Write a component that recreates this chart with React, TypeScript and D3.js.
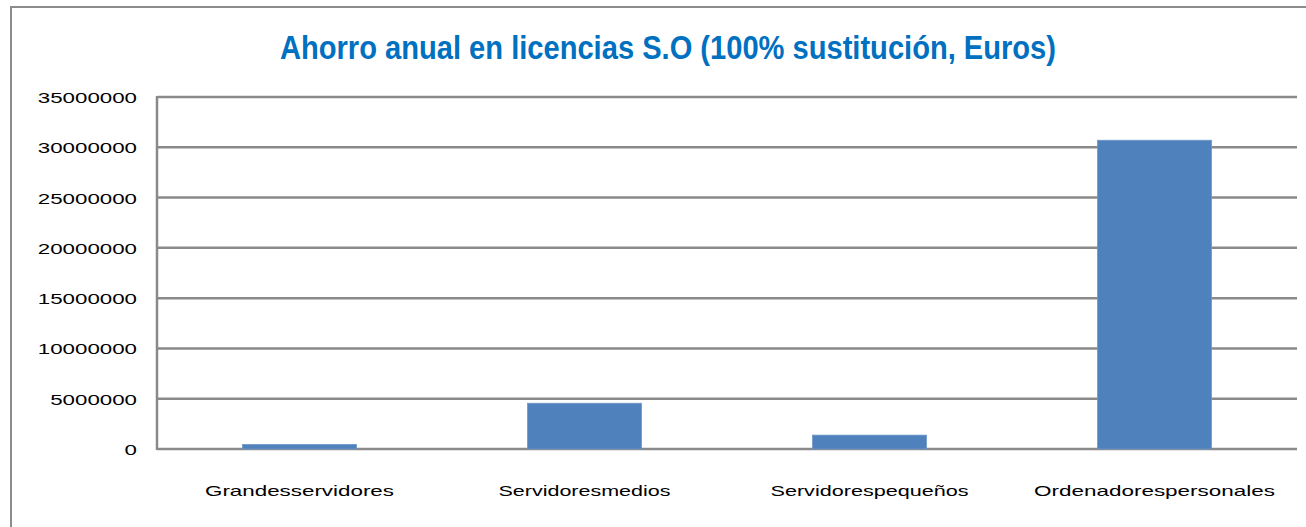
import React, { useEffect, useRef } from "react";
import * as d3 from "d3";

// categories and values
const categories = [
  "Grandesservidores",
  "Servidoresmedios",
  "Servidorespequeños",
  "Ordenadorespersonales",
];
const ahorro = [450000, 4550000, 1380000, 30700000];
const yTicks = [0, 5000000, 10000000, 15000000, 20000000, 25000000, 30000000, 35000000];
// rendered widths of the stretched labels in the original
const catLabelWidths = [189, 172, 198, 241];

const title = "Ahorro anual en licencias S.O (100% sustitución, Euros)";

export default function App() {
  const ref = useRef<SVGSVGElement>(null);

  useEffect(() => {
    const width = 1306;
    const height = 527;
    const margin = { top: 97, right: 9, bottom: 78, left: 157 };
    const innerWidth = width - margin.left - margin.right;
    const innerHeight = height - margin.top - margin.bottom;

    const svg = d3.select(ref.current).attr("width", width).attr("height", height);
    svg.selectAll("*").remove();

    // outer chart border
    svg.append("rect")
      .attr("x", 11)
      .attr("y", 7)
      .attr("width", width + 20)
      .attr("height", height + 20)
      .attr("fill", "white")
      .attr("stroke", "#8c8c8c")
      .attr("stroke-width", 2);

    svg.append("text")
      .attr("x", 668)
      .attr("y", 59)
      .attr("text-anchor", "middle")
      .attr("fill", "#0070C0")
      .style("font-family", "'Liberation Sans', Arial, sans-serif")
      .style("font-weight", "bold")
      .style("font-size", "33px")
      .attr("textLength", 776)
      .attr("lengthAdjust", "spacingAndGlyphs")
      .text(title);

    const g = svg.append("g").attr("transform", `translate(${margin.left}, ${margin.top})`);

    const xScale = d3.scaleBand<string>()
      .domain(categories)
      .range([0, innerWidth])
      .paddingInner(0.6)
      .paddingOuter(0.3);

    const yScale = d3.scaleLinear().domain([0, 35000000]).range([innerHeight, 0]);

    // gridlines
    g.selectAll("line.grid")
      .data(yTicks)
      .enter()
      .append("line")
      .attr("class", "grid")
      .attr("x1", 0)
      .attr("x2", innerWidth)
      .attr("y1", (d) => yScale(d))
      .attr("y2", (d) => yScale(d))
      .attr("stroke", "#8a8a8a")
      .attr("stroke-width", 2.5);

    // left axis line
    g.append("line")
      .attr("x1", 0)
      .attr("x2", 0)
      .attr("y1", -1)
      .attr("y2", innerHeight + 1)
      .attr("stroke", "#8a8a8a")
      .attr("stroke-width", 2.5);

    // y labels
    g.selectAll("text.ylab")
      .data(yTicks)
      .enter()
      .append("text")
      .attr("class", "ylab")
      .attr("x", -20)
      .attr("y", (d) => yScale(d) + 6)
      .attr("text-anchor", "end")
      .style("font-family", "'Liberation Sans', Arial, sans-serif")
      .style("font-size", "15px")
      .attr("fill", "#000")
      .attr("textLength", (d) => String(d).length * 12.4)
      .attr("lengthAdjust", "spacingAndGlyphs")
      .text((d) => String(d));

    // bars
    g.selectAll("rect.bar")
      .data(categories)
      .enter()
      .append("rect")
      .attr("class", "bar")
      .attr("x", (d) => xScale(d)!)
      .attr("y", (d, i) => yScale(ahorro[i]))
      .attr("width", xScale.bandwidth())
      .attr("height", (d, i) => innerHeight - yScale(ahorro[i]))
      .attr("fill", "#4F81BD")
      .attr("stroke", "#6f97c9")
      .attr("stroke-width", 0.8);

    // x labels
    g.selectAll("text.xlab")
      .data(categories)
      .enter()
      .append("text")
      .attr("class", "xlab")
      .attr("x", (d) => xScale(d)! + xScale.bandwidth() / 2)
      .attr("y", innerHeight + 47)
      .attr("text-anchor", "middle")
      .style("font-family", "'Liberation Sans', Arial, sans-serif")
      .style("font-size", "15px")
      .attr("fill", "#000")
      .attr("textLength", (d, i) => catLabelWidths[i])
      .attr("lengthAdjust", "spacingAndGlyphs")
      .text((d) => d);
  }, []);

  return (
    <div>
      <svg ref={ref} style={{ position: "absolute", left: 0, top: 0 }}></svg>
    </div>
  );
}
